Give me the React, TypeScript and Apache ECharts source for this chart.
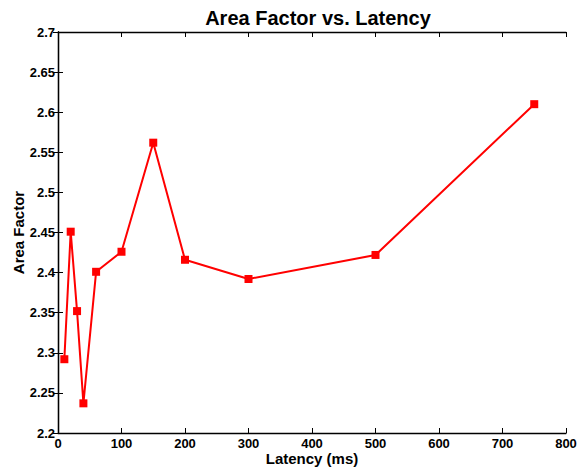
import React, { useEffect, useRef } from "react";
import * as echarts from "echarts";

const latency = [10, 20, 30, 40, 60, 100, 150, 200, 300, 500, 750];
const areaFactor = [2.292, 2.451, 2.352, 2.237, 2.401, 2.426, 2.562, 2.416, 2.392, 2.422, 2.61];
const yTickLabels = ["2.2", "2.25", "2.3", "2.35", "2.4", "2.45", "2.5", "2.55", "2.6", "2.65", "2.7"];

export default function App() {
  const ref = useRef<HTMLDivElement>(null);
  useEffect(() => {
    const chart = echarts.init(ref.current!, null, { renderer: "svg" });
    const font = "'Liberation Sans', Arial, sans-serif";
    const axisLine = { show: true, lineStyle: { color: "#000", width: 1.3 } };
    const tick = { show: true, inside: true, length: 5, lineStyle: { color: "#000", width: 1 } };
    chart.setOption({
      animation: false,
      backgroundColor: "#fff",
      title: {
        text: "Area Factor vs. Latency",
        left: 313,
        textAlign: "center",
        top: 3,
        textStyle: { fontFamily: font, fontWeight: "bold", fontSize: 20, color: "#000" },
      },
      grid: { left: 58, top: 32, width: 508, height: 401, containLabel: false, outerBoundsMode: "none" },
      xAxis: [
        {
          type: "value",
          min: 0,
          max: 800,
          interval: 100,
          position: "bottom",
          axisLine,
          axisTick: tick,
          splitLine: { show: false },
          axisLabel: { fontFamily: font, fontWeight: "bold", fontSize: 13, color: "#000", margin: 4 },
          name: "Latency (ms)",
          nameLocation: "middle",
          nameGap: 18,
          nameMoveOverlap: false,
          nameTextStyle: { fontFamily: font, fontWeight: "bold", fontSize: 15, color: "#000" },
        },
        {
          type: "value",
          min: 0,
          max: 800,
          interval: 100,
          position: "top",
          axisLine,
          axisTick: tick,
          splitLine: { show: false },
          axisLabel: { show: false },
        },
      ],
      yAxis: [
        {
          type: "value",
          min: 2.2,
          max: 2.7,
          interval: 0.05,
          position: "left",
          axisLine,
          axisTick: tick,
          splitLine: { show: false },
          axisLabel: {
            fontFamily: font,
            fontWeight: "bold",
            fontSize: 13,
            color: "#000",
            margin: 3,
            formatter: (v: number) => {
              const i = Math.round((v - 2.2) / 0.05);
              return yTickLabels[i] ?? "";
            },
          },
          name: "Area Factor",
          nameLocation: "middle",
          nameGap: 32,
          nameMoveOverlap: false,
          nameTextStyle: { fontFamily: font, fontWeight: "bold", fontSize: 15, color: "#000" },
        },
        {
          type: "value",
          min: 2.2,
          max: 2.7,
          interval: 0.05,
          position: "right",
          axisLine,
          axisTick: tick,
          splitLine: { show: false },
          axisLabel: { show: false },
        },
      ],
      series: [
        {
          type: "line",
          data: latency.map((x, i) => [x, areaFactor[i]]),
          symbol: "rect",
          symbolSize: 8,
          lineStyle: { color: "#ff0000", width: 2 },
          itemStyle: { color: "#ff0000" },
        },
      ],
    });
    return () => chart.dispose();
  }, []);
  return <div ref={ref} style={{ position: "fixed", left: 0, top: 0, width: 585, height: 475 }} />;
}
